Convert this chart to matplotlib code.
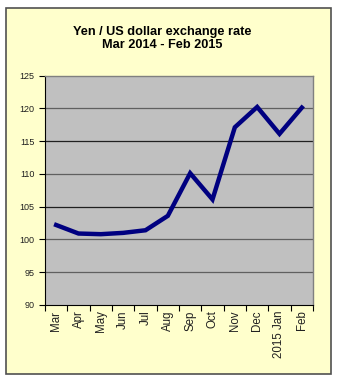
import matplotlib.pyplot as plt
from matplotlib.patches import Rectangle
import numpy as np

plt.rcParams['font.family'] = ['Liberation Sans', 'DejaVu Sans']

months = ['Mar', 'Apr', 'May', 'Jun', 'Jul', 'Aug', 'Sep', 'Oct',
          'Nov', 'Dec', '2015 Jan', 'Feb']
yen_per_usd = [102.2, 100.9, 100.8, 101.0, 101.4, 103.6, 110.1, 106.1,
               117.1, 120.2, 116.1, 120.1]
y_ticks = [90, 95, 100, 105, 110, 115, 120, 125]

fig = plt.figure(figsize=(3.39, 3.83), dpi=100)
fig.patch.set_facecolor('white')

# pale yellow chart area with a thin border
frame = Rectangle((6 / 339, 1 - 374 / 383), 325 / 339, 366 / 383,
                  transform=fig.transFigure, facecolor='#FFFFCC',
                  edgecolor='#505050', linewidth=1.2, zorder=-1)
fig.add_artist(frame)

ax = fig.add_axes([45 / 339, 1 - 305 / 383, 268 / 339, 229.5 / 383])
ax.set_zorder(1)
ax.set_facecolor('#C0C0C0')

x = np.arange(len(months))
ax.plot(x, yen_per_usd, color='#000080', linewidth=3.2,
        solid_joinstyle='miter', zorder=3)

ax.set_xlim(-0.5, len(months) - 0.5)
ax.set_ylim(90, 125)

# horizontal gridlines
for v in y_ticks[1:-1]:
    ax.axhline(v, color='#202020' if v in (105, 115) else '#606060',
               linewidth=0.9, zorder=1)

ax.set_yticks(y_ticks)
ax.set_yticklabels([str(v) for v in y_ticks], fontsize=6.5, color='#202020')
ax.tick_params(axis='y', direction='out', length=4.5, width=0.8, pad=3)

# category labels centred, tick marks on category boundaries
ax.set_xticks(np.arange(-0.5, len(months)), minor=False)
ax.set_xticklabels([])
ax.tick_params(axis='x', which='major', direction='out', length=4, width=0.8)
ax.set_xticks(x, minor=True)
ax.set_xticklabels(months, minor=True, rotation=90, fontsize=8.3,
                   color='#202020')
ax.tick_params(axis='x', which='minor', length=0, pad=4)

for side in ('top', 'right'):
    ax.spines[side].set_color('#808080')
    ax.spines[side].set_linewidth(1.0)
for side in ('left', 'bottom'):
    ax.spines[side].set_color('#000000')
    ax.spines[side].set_linewidth(0.8)

fig.text(162 / 339, 1 - 32 / 383, 'Yen / US dollar exchange rate',
         ha='center', va='center', fontsize=9.2, fontweight='bold')
fig.text(162 / 339, 1 - 45 / 383, 'Mar 2014 - Feb 2015',
         ha='center', va='center', fontsize=9.2, fontweight='bold')

fig.savefig('out.png', dpi=100)
